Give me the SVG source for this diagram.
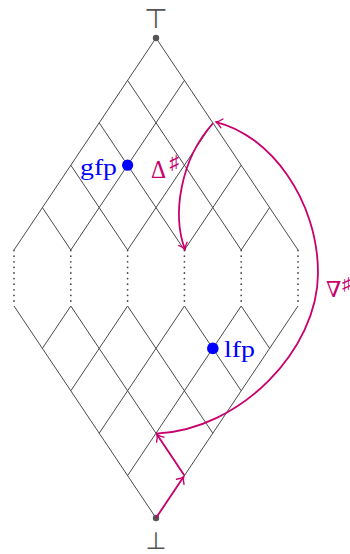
<svg xmlns="http://www.w3.org/2000/svg" width="350" height="554" viewBox="0 0 350 554">
<style>
.lat{stroke:#4a4a4a;stroke-width:1;fill:none}
.dots{stroke:#4a4a4a;stroke-width:1.8;stroke-linecap:round;stroke-dasharray:0 5.6;fill:none}
.arr{stroke:#c8006e;stroke-width:1.8;fill:none;marker-end:url(#tip)}
.lbl{fill:#0000ff;font-family:"Liberation Serif",serif}
.mag{fill:#c8006e;font-family:"Liberation Serif","DejaVu Serif",serif}
.sym{fill:#555;font-family:"DejaVu Sans",sans-serif}
</style>
<defs>
<marker id="tip" markerUnits="userSpaceOnUse" markerWidth="14" markerHeight="14" viewBox="-7 -7 14 14" refX="0" refY="0" orient="auto" overflow="visible">
<path d="M-6,-4.5 C-3.5,-1.8 -1.2,-0.5 0,0 C-1.2,0.5 -3.5,1.8 -6,4.5" stroke="#c8006e" stroke-width="1.4" fill="none" stroke-linecap="round"/>
</marker>
</defs>
<g id="lattice">
<path class="lat" d="M156,38L14,250M184.4,80.4L70.8,250M212.8,122.8L127.6,250M241.2,165.2L184.4,250M269.6,207.6L241.2,250M156,38L298,250M127.6,80.4L241.2,250M99.2,122.8L184.4,250M70.8,165.2L127.6,250M42.4,207.6L70.8,250"/>
<path class="lat" d="M156,518L14,306M184.4,475.6L70.8,306M212.8,433.2L127.6,306M241.2,390.8L184.4,306M269.6,348.4L241.2,306M156,518L298,306M127.6,475.6L241.2,306M99.2,433.2L184.4,306M70.8,390.8L127.6,306M42.4,348.4L70.8,306"/>
<path class="dots" d="M14,250.6V306M70.8,250.6V306M127.6,250.6V306M184.4,250.6V306M241.2,250.6V306M298,250.6V306"/>
</g>
<g id="top">
<circle cx="156" cy="38" r="3.2" fill="#555"/>
<text class="sym" x="156" y="28" font-size="27" text-anchor="middle">⊤</text>
</g>
<g id="bottom">
<circle cx="156" cy="518" r="3.2" fill="#555"/>
<text class="sym" x="156" y="548.5" font-size="24" text-anchor="middle">⊥</text>
</g>
<g id="gfp">
<circle cx="127.6" cy="165.2" r="5.6" fill="#0000ff"/>
<text class="lbl" x="117" y="175" font-size="24" text-anchor="end" textLength="37" lengthAdjust="spacingAndGlyphs">gfp</text>
</g>
<g id="lfp">
<circle cx="212.8" cy="348.4" r="5.8" fill="#0000ff"/>
<text class="lbl" x="224" y="357" font-size="24" textLength="31" lengthAdjust="spacingAndGlyphs">lfp</text>
</g>
<g id="connectors">
<path class="arr" d="M156,518L183.6,476.8"/>
<path class="arr" d="M184.4,475.6L157,434.6"/>
<path class="arr" d="M156,433.6C240,430 318,350 318,273C318,200 270,135 216,122"/>
<path class="arr" d="M212.8,123.5C180,160 172,215 185,249.5"/>
</g>
<g id="labels">
<text class="mag" x="151" y="177.5" font-size="25" font-family="DejaVu Serif" textLength="15" lengthAdjust="spacingAndGlyphs">Δ</text>
<text class="mag" x="169.5" y="169" font-size="20" font-family="DejaVu Sans">♯</text>
<text class="mag" x="326" y="297" font-size="22" font-family="DejaVu Serif">∇</text>
<text class="mag" x="342" y="290" font-size="18" font-family="DejaVu Sans">♯</text>
</g>
</svg>
